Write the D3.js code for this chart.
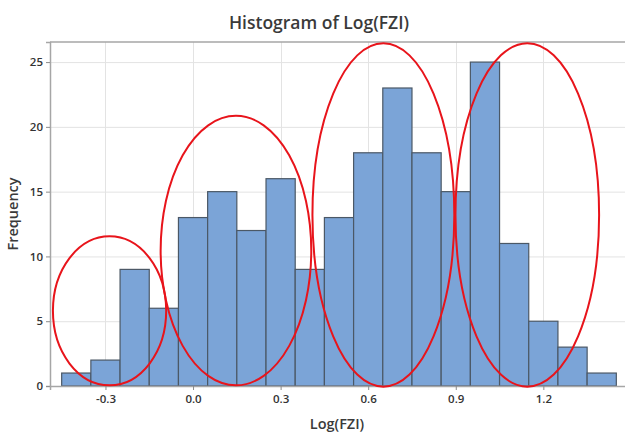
<!DOCTYPE html>
<html>
<head>
<meta charset="utf-8">
<script src="https://cdn.jsdelivr.net/npm/d3@7"></script>
<style>
	body { margin: 0; background: #fff; }
	svg { display: block; font-family: "Open Sans", "Noto Sans", sans-serif; }
</style>
</head>
<body>
<div id="chart"></div>
<script>
// bin midpoints (Log(FZI)) and counts
var binMids = [-0.4, -0.3, -0.2, -0.1, 0.0, 0.1, 0.2, 0.3, 0.4, 0.5, 0.6, 0.7, 0.8, 0.9, 1.0, 1.1, 1.2, 1.3, 1.4];
var counts  = [1, 2, 9, 6, 13, 15, 12, 16, 9, 13, 18, 23, 18, 15, 25, 11, 5, 3, 1];
var binWidth = 0.1;

var xTicks = [-0.3, 0.0, 0.3, 0.6, 0.9, 1.2];
var yTicks = [0, 5, 10, 15, 20, 25];

// red ellipses drawn over the histogram (data units)
var ellipseCx = [-0.286, 0.147, 0.652, 1.145];
var ellipseCy = [5.8, 10.45, 13.2, 13.2];
var ellipseRx = [0.194, 0.258, 0.243, 0.246];
var ellipseRy = [5.75, 10.4, 13.25, 13.25];

var width = 625, height = 434;
var plot = { left: 50, right: 628, top: 42, bottom: 386 };

var x = d3.scaleLinear().domain([-0.49, 1.49]).range([plot.left, plot.right]);
var y = d3.scaleLinear().domain([0, 26.55]).range([plot.bottom, plot.top]);

var svg = d3.select('#chart').append('svg')
	.attr('width', width)
	.attr('height', height);

// gridlines
svg.append('g').selectAll('line').data(yTicks.filter(function(d){ return d > 0 })).enter().append('line')
	.attr('x1', plot.left).attr('x2', plot.right)
	.attr('y1', function(d){ return y(d) + 0.5 }).attr('y2', function(d){ return y(d) + 0.5 })
	.attr('stroke', '#e3e3e3').attr('stroke-width', 1);

svg.append('g').selectAll('line').data(xTicks).enter().append('line')
	.attr('x1', function(d){ return Math.round(x(d)) + 0.5 }).attr('x2', function(d){ return Math.round(x(d)) + 0.5 })
	.attr('y1', plot.top).attr('y2', plot.bottom)
	.attr('stroke', '#e3e3e3').attr('stroke-width', 1);

// frame top
svg.append('line')
	.attr('x1', plot.left).attr('x2', plot.right)
	.attr('y1', plot.top).attr('y2', plot.top)
	.attr('stroke', '#a6a6a6').attr('stroke-width', 1.5);

// bars
svg.append('g').selectAll('rect').data(counts).enter().append('rect')
	.attr('x', function(d, i){ return x(binMids[i] - binWidth / 2) })
	.attr('width', function(d, i){ return x(binMids[i] + binWidth / 2) - x(binMids[i] - binWidth / 2) })
	.attr('y', function(d){ return y(d) })
	.attr('height', function(d){ return y(0) - y(d) })
	.attr('fill', '#7ba4d7')
	.attr('stroke', '#4b5866')
	.attr('stroke-width', 1.2);

// axes
var yAxis = svg.append('g')
	.attr('transform', 'translate(' + plot.left + ',0)')
	.call(d3.axisLeft(y).tickValues(yTicks).tickSize(4).tickPadding(3).tickFormat(d3.format('d')));

var xAxis = svg.append('g')
	.attr('transform', 'translate(0,' + plot.bottom + ')')
	.call(d3.axisBottom(x).tickValues(xTicks).tickSize(4).tickPadding(5)
		.tickFormat(function(d){ return d3.format('.1f')(d).replace('\u2212', '-') }));

[xAxis, yAxis].forEach(function(a){
	a.select('.domain').attr('stroke', '#a6a6a6').attr('stroke-width', 1.5);
	a.selectAll('.tick line').attr('stroke', '#8c8c8c');
	a.selectAll('.tick text')
		.attr('fill', '#333')
		.style('font-size', '11.5px')
		.style('font-weight', '600')
		.style('font-family', '"Open Sans", "Noto Sans", sans-serif');
});

// ellipses
svg.append('g').selectAll('ellipse').data(ellipseCx).enter().append('ellipse')
	.attr('cx', function(d){ return x(d) })
	.attr('cy', function(d, i){ return y(ellipseCy[i]) })
	.attr('rx', function(d, i){ return x(d + ellipseRx[i]) - x(d) })
	.attr('ry', function(d, i){ return y(0) - y(ellipseRy[i]) })
	.attr('fill', 'none')
	.attr('stroke', '#e8141b')
	.attr('stroke-width', 2);

// titles
svg.append('text')
	.attr('x', 319).attr('y', 29)
	.attr('text-anchor', 'middle')
	.attr('fill', '#3a3a3a')
	.style('font-size', '17.5px')
	.style('font-weight', '600')
	.text('Histogram of Log(FZI)');

svg.append('text')
	.attr('x', 337).attr('y', 429)
	.attr('text-anchor', 'middle')
	.attr('fill', '#3a3a3a')
	.style('font-size', '14.5px')
	.style('font-weight', '600')
	.text('Log(FZI)');

svg.append('text')
	.attr('transform', 'translate(18,214) rotate(-90)')
	.attr('text-anchor', 'middle')
	.attr('fill', '#3a3a3a')
	.style('font-size', '14.5px')
	.style('font-weight', '600')
	.text('Frequency');
</script>
</body>
</html>
